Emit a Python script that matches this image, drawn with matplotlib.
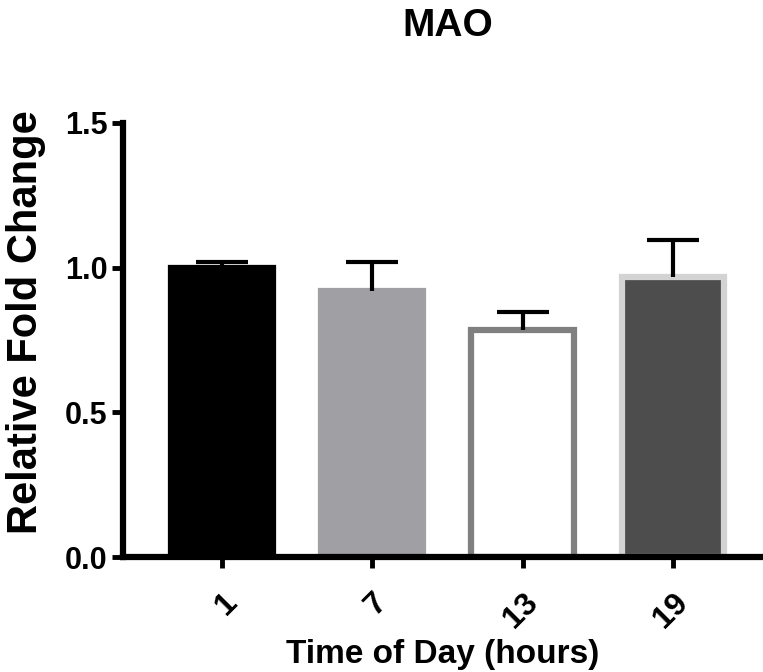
import matplotlib.pyplot as plt

# data
hours = ["1", "7", "13", "19"]
fold_change = [1.00, 0.92, 0.783, 0.969]
sem = [0.02, 0.10, 0.063, 0.128]
face_colors = ["#000000", "#a0a0a4", "#ffffff", "#4d4d4d"]
edge_colors = ["#000000", "#a0a0a4", "#808080", "#d3d3d3"]

plt.rcParams['font.family'] = ['Liberation Sans', 'DejaVu Sans']
plt.rcParams['font.weight'] = 'bold'

fig = plt.figure(figsize=(7.63, 6.72), dpi=100)
ax = fig.add_axes([0.161, 0.171, 0.839, 0.646])

x = list(range(len(hours)))
ax.bar(x, fold_change, width=0.68, color=face_colors, edgecolor=edge_colors,
       linewidth=4.5, zorder=2)
eb = ax.errorbar(x, fold_change, yerr=[[0] * len(sem), sem], fmt='none',
                 ecolor='black', elinewidth=3, capsize=19, capthick=3, zorder=3)
# only the upper caps, like the reference
eb[1][0].set_visible(False)

ax.set_xlim(-0.66, 3.6)
ax.set_ylim(0, 1.5)
ax.set_yticks([0, 0.5, 1.0, 1.5])
ax.set_yticklabels(["0.0", "0.5", "1.0", "1.5"], fontsize=22, fontweight='bold')
ax.set_xticks(x)
ax.set_xticklabels(hours, fontsize=23, fontweight='bold', rotation=45,
                   ha='right', va='top', rotation_mode='anchor')

for side in ['top', 'right']:
    ax.spines[side].set_visible(False)
for side in ['left', 'bottom']:
    ax.spines[side].set_linewidth(4.5)
    ax.spines[side].set_zorder(4)
ax.tick_params(axis='both', width=3.5, length=8, direction='out', pad=3)
ax.tick_params(axis='x', pad=14)

fig.text(0.587, 0.961, "MAO", ha='center', va='center', fontsize=28, fontweight='bold')
fig.text(0.58, 0.026, "Time of Day (hours)", ha='center', va='center',
         fontsize=24, fontweight='bold')
fig.text(0.034, 0.52, "Relative Fold Change", ha='center', va='center',
         rotation=90, fontsize=30, fontweight='bold')

fig.savefig("out.png", dpi=100)
